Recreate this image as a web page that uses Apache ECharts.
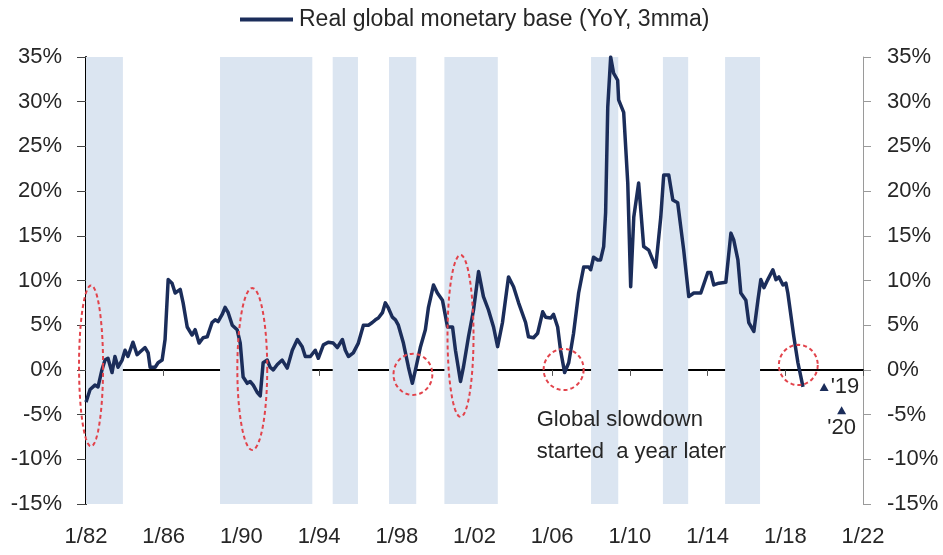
<!DOCTYPE html>
<html>
<head>
<meta charset="utf-8">
<title>Real global monetary base</title>
<script src="https://cdn.jsdelivr.net/npm/echarts@6/dist/echarts.min.js"></script>
<style>
  html, body { margin: 0; padding: 0; background: #fff; }
  #chart { width: 943px; height: 555px; }
</style>
</head>
<body>
<div id="chart"></div>
<script>
// Real global monetary base, YoY %, 3-month moving average (decimal years)
const years = [
  1982.00, 1982.21, 1982.46, 1982.62, 1982.82, 1982.98, 1983.13, 1983.34, 1983.49, 1983.65,
  1983.86, 1984.01, 1984.16, 1984.42, 1984.63, 1984.78, 1985.04, 1985.20, 1985.30, 1985.56,
  1985.71, 1985.92, 1986.07, 1986.23, 1986.43, 1986.59, 1986.85, 1987.00, 1987.21, 1987.46,
  1987.62, 1987.82, 1988.03, 1988.24, 1988.49, 1988.65, 1988.80, 1989.01, 1989.16, 1989.32,
  1989.53, 1989.78, 1989.94, 1990.09, 1990.30, 1990.45, 1990.61, 1990.81, 1990.97, 1991.12,
  1991.33, 1991.48, 1991.64, 1991.85, 1992.10, 1992.36, 1992.62, 1992.88, 1993.13, 1993.29,
  1993.55, 1993.80, 1993.96, 1994.22, 1994.47, 1994.73, 1994.94, 1995.20, 1995.35, 1995.51,
  1995.76, 1996.02, 1996.28, 1996.54, 1996.74, 1996.90, 1997.05, 1997.26, 1997.41, 1997.57,
  1997.77, 1997.93, 1998.08, 1998.34, 1998.60, 1998.80, 1998.96, 1999.22, 1999.47, 1999.63,
  1999.89, 2000.09, 2000.35, 2000.61, 2000.87, 2001.02, 2001.28, 2001.43, 2001.69, 2001.95,
  2002.21, 2002.46, 2002.72, 2002.98, 2003.19, 2003.44, 2003.75, 2004.01, 2004.27, 2004.63,
  2004.78, 2005.04, 2005.25, 2005.51, 2005.66, 2005.92, 2006.07, 2006.28, 2006.43, 2006.64,
  2006.85, 2007.10, 2007.36, 2007.62, 2007.88, 2007.98, 2008.13, 2008.34, 2008.49, 2008.65,
  2008.75, 2008.86, 2009.01, 2009.16, 2009.37, 2009.42, 2009.68, 2009.89, 2010.04, 2010.20,
  2010.45, 2010.71, 2010.97, 2011.33, 2011.59, 2011.74, 2012.00, 2012.21, 2012.46, 2012.77,
  2013.03, 2013.29, 2013.65, 2014.01, 2014.16, 2014.32, 2014.58, 2014.94, 2015.20, 2015.35,
  2015.56, 2015.71, 2015.97, 2016.12, 2016.38, 2016.59, 2016.74, 2016.90, 2017.10, 2017.36,
  2017.52, 2017.67, 2017.88, 2018.03, 2018.13, 2018.44, 2018.65, 2018.91
];
const values = [
  -3.6, -2.2, -1.7, -1.9, 0.0, 1.1, 1.3, -0.3, 1.5, 0.3,
  1.1, 2.2, 1.5, 3.1, 1.7, 2.0, 2.5, 1.9, 0.3, 0.3,
  0.8, 1.1, 3.4, 10.1, 9.7, 8.6, 9.0, 7.5, 4.8, 3.9,
  4.5, 3.0, 3.6, 3.7, 5.3, 5.6, 5.4, 6.2, 7.0, 6.4,
  5.0, 4.5, 3.0, -0.8, -1.5, -1.3, -1.7, -2.5, -2.9, 0.8,
  1.1, 0.3, 0.0, 0.6, 1.1, 0.2, 2.2, 3.4, 2.6, 1.5,
  1.5, 2.2, 1.3, 2.8, 3.1, 3.0, 2.5, 3.4, 2.2, 1.5,
  1.9, 3.0, 5.0, 5.0, 5.3, 5.6, 5.8, 6.4, 7.5, 6.9,
  5.9, 5.6, 5.0, 3.0, 0.3, -1.5, 0.0, 2.6, 4.5, 7.0,
  9.5, 8.6, 7.8, 4.8, 4.8, 2.2, -1.3, 0.3, 3.7, 6.7,
  11.0, 8.2, 6.7, 4.8, 2.6, 5.3, 10.4, 9.3, 7.5, 5.3,
  3.7, 3.6, 4.1, 6.5, 5.9, 5.8, 6.2, 4.8, 2.2, -0.3,
  0.8, 4.1, 8.6, 11.5, 11.5, 11.2, 12.6, 12.3, 12.3, 13.8,
  17.6, 29.4, 35.0, 33.2, 32.4, 30.2, 28.8, 20.9, 9.3, 17.1,
  20.9, 13.8, 13.4, 11.5, 17.1, 21.8, 21.8, 19.0, 18.7, 13.4,
  8.2, 8.6, 8.6, 10.9, 10.9, 9.5, 9.7, 9.8, 15.3, 14.5,
  12.3, 8.6, 7.8, 5.3, 4.3, 7.8, 10.1, 9.2, 10.1, 11.2,
  10.1, 10.4, 9.5, 9.7, 8.6, 3.7, 0.8, -1.9
];

// Forecast points
const forecastYears = [2020.0, 2020.9];
const forecastValues = [-1.9, -4.5];
const forecastLabels = ["'19", "'20"];

// Shaded periods (start, end as decimal years)
const bandStart = [1982.0, 1988.9, 1994.7, 1997.6, 2000.45, 2008.0, 2011.7, 2014.9];
const bandEnd   = [1983.9, 1993.65, 1996.0, 1999.0, 2003.2, 2009.4, 2013.0, 2016.7];

// Highlighted turning points: centre year, centre value, half-width (years), half-height (%)
const ringYear   = [1982.26, 1990.56, 1998.83, 2001.28, 2006.59, 2018.67];
const ringValue  = [0.45, 0.1, -0.5, 3.8, 0.05, 0.55];
const ringHalfW  = [0.62, 0.77, 1.0, 0.67, 1.03, 1.0];
const ringHalfH  = [9.0, 9.06, 2.3, 9.06, 2.3, 2.25];

// Axis ticks
const xMin = 1982, xMax = 2022, xStep = 4;
const yMin = -15, yMax = 35, yStep = 5;

const seriesName = 'Real global monetary base (YoY, 3mma)';
const noteText = 'Global slowdown\nstarted  a year later';
const noteYear = 2005.2, noteValue = -7.4;

const FONT = "'Liberation Sans', Arial, Helvetica, sans-serif";
const TEXT = '#262626';
const NAVY = '#1b2d5a';

const chart = echarts.init(document.getElementById('chart'), null, { renderer: 'canvas' });

const lineData = years.map((y, i) => [y, values[i]]);
const bands = bandStart.map((s, i) => [{ xAxis: s }, { xAxis: bandEnd[i] }]);
const rings = ringYear.map((y, i) => [y, ringValue[i], ringHalfW[i], ringHalfH[i]]);

const yAxisBase = {
  type: 'value', min: yMin, max: yMax, interval: yStep,
  splitLine: { show: false },
  axisLabel: { formatter: '{value}%', fontSize: 22, color: TEXT, fontFamily: FONT, margin: 24 }
};

chart.setOption({
  backgroundColor: '#fff',
  animation: false,
  textStyle: { fontFamily: FONT },
  grid: { left: 86, right: 80, top: 57, bottom: 51, containLabel: false },
  legend: {
    data: [{ name: seriesName, icon: 'rect' }],
    left: 240, top: 8, padding: 0,
    itemWidth: 53, itemHeight: 4, itemGap: 10,
    itemStyle: { color: NAVY },
    textStyle: { fontSize: 23, color: TEXT, fontFamily: FONT, padding: [0, 0, 0, 1] }
  },
  xAxis: [
    {
      type: 'value', min: xMin, max: xMax, interval: xStep, position: 'bottom',
      axisLine: { show: false, onZero: false }, axisTick: { show: false }, splitLine: { show: false },
      axisLabel: {
        fontSize: 22, color: TEXT, fontFamily: FONT, margin: 22, showMaxLabel: true, showMinLabel: true,
        formatter: v => '1/' + String(v % 100).padStart(2, '0')
      }
    },
    {
      type: 'value', min: xMin, max: xMax, interval: xStep, position: 'top',
      axisLine: { show: true, onZero: true, onZeroAxisIndex: 0, lineStyle: { color: '#000', width: 2 } },
      axisTick: { show: true, inside: true, length: 6, lineStyle: { color: '#555', width: 1 } },
      axisLabel: { show: false }, splitLine: { show: false }
    }
  ],
  yAxis: [
    Object.assign({}, yAxisBase, {
      position: 'left',
      axisLine: { show: true, lineStyle: { color: '#000', width: 2 } },
      axisTick: { show: true, length: 9, lineStyle: { color: '#444' } }
    }),
    Object.assign({}, yAxisBase, {
      position: 'right',
      axisLine: { show: true, lineStyle: { color: '#9a9a9a', width: 1 } },
      axisTick: { show: true, length: 8, lineStyle: { color: '#9a9a9a' } }
    })
  ],
  series: [
    {
      name: seriesName,
      type: 'line',
      xAxisIndex: 0, yAxisIndex: 0,
      data: lineData,
      symbol: 'none', showSymbol: false,
      lineStyle: { color: NAVY, width: 3.5, join: 'round' },
      itemStyle: { color: NAVY },
      z: 4,
      markArea: {
        silent: true,
        itemStyle: { color: '#dbe5f1' },
        data: bands
      }
    },
    {
      type: 'custom',
      xAxisIndex: 0, yAxisIndex: 0,
      data: rings,
      clip: false, silent: true, z: 6,
      renderItem: (params, api) => {
        const c = api.coord([api.value(0), api.value(1)]);
        const s = api.size([api.value(2), api.value(3)]);
        const pts = [];
        for (let k = 0; k <= 72; k++) {
          const a = (k / 72) * Math.PI * 2;
          pts.push([c[0] + s[0] * Math.cos(a), c[1] + s[1] * Math.sin(a)]);
        }
        return {
          type: 'polyline',
          shape: { points: pts },
          style: { fill: null, stroke: '#e2434b', lineWidth: 2, lineDash: [4, 3] }
        };
      }
    },
    {
      type: 'scatter',
      xAxisIndex: 0, yAxisIndex: 0,
      symbol: 'triangle', symbolSize: [9, 8],
      itemStyle: { color: NAVY, opacity: 1 },
      z: 5, silent: true,
      data: forecastYears.map((y, i) => ({
        value: [y, forecastValues[i]],
        label: {
          show: true,
          formatter: forecastLabels[i],
          position: i === 0 ? 'right' : 'bottom',
          distance: i === 0 ? 2 : 3,
          fontSize: 22, color: TEXT, fontFamily: FONT, opacity: 1
        }
      }))
    },
    {
      type: 'scatter',
      xAxisIndex: 0, yAxisIndex: 0,
      symbolSize: 0, silent: true, z: 5,
      itemStyle: { opacity: 1 },
      data: [[noteYear, noteValue]],
      label: {
        show: true, position: 'right', distance: 0,
        formatter: noteText,
        fontSize: 22, lineHeight: 32, color: TEXT, fontFamily: FONT, opacity: 1
      }
    }
  ]
});
</script>
</body>
</html>
